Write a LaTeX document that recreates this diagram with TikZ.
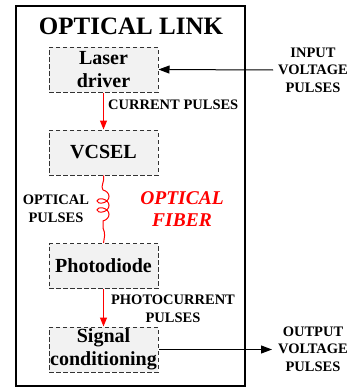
\documentclass[tikz,border=0pt]{standalone}
\usepackage{fontspec}
\setmainfont{Liberation Serif}
\usetikzlibrary{arrows.meta,decorations.pathmorphing}
\definecolor{boxfill}{HTML}{F2F2F2}
\definecolor{boxline}{HTML}{333333}
\tikzset{
  blockbox/.style={draw=boxline, dashed, dash pattern=on 4.5pt off 2.5pt, line width=1pt, fill=boxfill,
    minimum width=109pt, minimum height=45pt, inner sep=0pt, align=center,
    font=\fontsize{20}{23}\selectfont\bfseries},
  lbl/.style={align=center, inner sep=0pt, font=\fontsize{14.5}{17.5}\selectfont\bfseries},
  redarrow/.style={red, line width=1pt, -{Triangle[length=9pt,width=7pt]}},
  blackarrow/.style={black, line width=1pt, -{Triangle[length=11pt,width=8pt]}}
}
\begin{document}
\begin{tikzpicture}[x=1pt,y=-1pt]
\useasboundingbox (0,0) rectangle (354,388);
\node[draw, line width=1.5pt, minimum width=229pt, minimum height=380pt, inner sep=0pt] (outer) at (130.5,196) {};
\node[inner sep=0pt, font=\fontsize{25}{28}\selectfont\bfseries] (title) at (131,26) {OPTICAL LINK};
\node[blockbox] (laser) at (103.5,69.5) {Laser\\driver};
\node[blockbox] (vcsel) at (103.5,152.5) {VCSEL};
\node[blockbox] (pd) at (103.5,266) {Photodiode};
\node[blockbox] (sig) at (103.5,349.5) {Signal\\conditioning};
\node[lbl] (inlbl) at (313,70) {INPUT\\VOLTAGE\\PULSES};
\node[lbl] (outlbl) at (313,349) {OUTPUT\\VOLTAGE\\PULSES};
\node[lbl, anchor=west] (cur) at (108,105) {CURRENT PULSES};
\node[lbl] (photo) at (173,309) {PHOTOCURRENT\\PULSES};
\node[lbl] (opt) at (56,209) {OPTICAL\\PULSES};
\node[align=center, inner sep=0pt, text=red, font=\fontsize{19.5}{21.5}\selectfont\bfseries\itshape] (fib) at (182,209) {OPTICAL\\FIBER};
\coordinate (instart) at (273,70);
\coordinate (outend) at (272,349.5);
\coordinate (c1) at (103,190);
\coordinate (c2) at (103,228);
\draw[blackarrow] (instart) -- (laser.east);
\draw[blackarrow] (sig.east) -- (outend);
\draw[redarrow] (laser.south) -- (vcsel.north);
\draw[redarrow] (pd.south) -- (sig.north);
\draw[red, line width=1pt] (vcsel.south) .. controls (105,182) and (100,186) .. (c1);
\draw[red, line width=1pt, decorate, decoration={coil, amplitude=6pt, segment length=9pt, aspect=0.7}] (c1) -- (c2);
\draw[red, line width=1pt] (c2) .. controls (106,234) and (104,238) .. (pd.north);
\end{tikzpicture}
\end{document}
